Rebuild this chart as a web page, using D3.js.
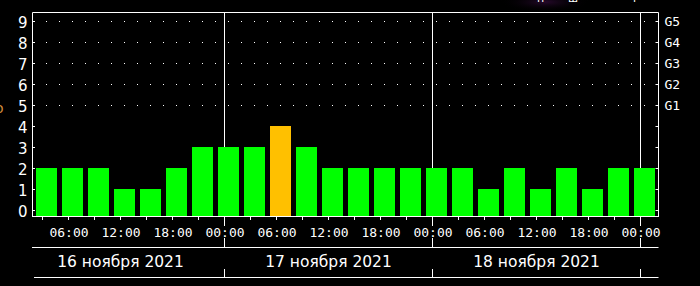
<!DOCTYPE html>
<html><head><meta charset="utf-8">
<script src="https://cdn.jsdelivr.net/npm/d3@7"></script>
<style>html,body{margin:0;padding:0;background:#000;}svg{display:block;}</style>
</head><body>
<script>
// ---- data ----
const kpValues = [2,2,2,1,1,2,3,3, 3,4,3,2,2,2,2,2, 2,1,2,1,2,1,2,2];
const yTicks = [0,1,2,3,4,5,6,7,8,9];
const gLabels = ["G1","G2","G3","G4","G5"];   // for Kp 5..9
const gLevels = [5,6,7,8,9];
const timeLabels = ["06:00","12:00","18:00","00:00","06:00","12:00","18:00","00:00","06:00","12:00","18:00","00:00"];
const dateLabels = ["16 ноября 2021","17 ноября 2021","18 ноября 2021"];

(function () {
const W = 700, H = 286;
const svg = d3.select("body").append("svg").attr("width", W).attr("height", H)
  .style("background", "#000");

// scales: hours since 16 Nov 00:00
const x = d3.scaleLinear().domain([0, 72]).range([16.5, 640.5]);
const y = d3.scaleLinear().domain([0, 9]).range([210.5, 21.2]);
const pLeft = 32.5, pRight = 658.5, pTop = 12.5, pBottom = 216.5;
const barW = 21;
const barLeft = i => x(3 * i) + 19.5;

// faint purple glow at top
const defs = svg.append("defs");
const rg = defs.append("radialGradient").attr("id", "glow");
rg.append("stop").attr("offset", "0%").attr("stop-color", "#2a0a30").attr("stop-opacity", 0.9);
rg.append("stop").attr("offset", "100%").attr("stop-color", "#000").attr("stop-opacity", 0);
svg.append("ellipse").attr("cx", 545).attr("cy", 2).attr("rx", 45).attr("ry", 10).attr("fill", "url(#glow)");
svg.append("text").attr("x", 537).attr("y", 2).attr("fill", "#fff")
  .attr("font-family", "DejaVu Sans").attr("font-size", 11).text("п");
svg.append("text").attr("x", 568).attr("y", 2).attr("fill", "#fff")
  .attr("font-family", "DejaVu Sans").attr("font-size", 11).text("ш");
svg.append("text").attr("x", 633).attr("y", 2).attr("fill", "#fff")
  .attr("font-family", "DejaVu Sans").attr("font-size", 11).text("ı");

// orange cut-off glyph at left
svg.append("text").attr("x", -5).attr("y", 113).attr("fill", "#d08a3a")
  .attr("font-family", "DejaVu Sans").attr("font-size", 14).text("o");

const white = "#fff";

// dotted grid at levels 5..9
const dotXs = [];
kpValues.forEach((d, i) => {
  dotXs.push(barLeft(i) + 10.5);
  if (i < kpValues.length - 1) dotXs.push(barLeft(i) + 23.5);
});
gLevels.forEach(l => {
  svg.append("g").selectAll("rect").data(dotXs).join("rect")
    .attr("x", d => Math.floor(d)).attr("y", Math.floor(y(l)))
    .attr("width", 1).attr("height", 1).attr("fill", white);
});

// day boundary lines
[24, 48, 72].forEach(h => {
  svg.append("line").attr("x1", x(h)).attr("x2", x(h)).attr("y1", pTop).attr("y2", pBottom)
    .attr("stroke", white).attr("stroke-width", 1);
});

// bars
svg.append("g").selectAll("rect").data(kpValues).join("rect")
  .attr("x", (d, i) => barLeft(i))
  .attr("width", barW)
  .attr("y", d => Math.round(y(d) - 0.5))
  .attr("height", d => pBottom - Math.round(y(d) - 0.5))
  .attr("fill", d => d >= 4 ? "#ffc000" : "#00ff00");

// frame
const frame = svg.append("g").attr("stroke", white).attr("stroke-width", 1).attr("fill", "none");
frame.append("line").attr("x1", pLeft).attr("x2", pRight).attr("y1", pTop).attr("y2", pTop);
frame.append("line").attr("x1", pLeft).attr("x2", pLeft).attr("y1", pTop).attr("y2", pBottom);
frame.append("line").attr("x1", pRight).attr("x2", pRight).attr("y1", pTop).attr("y2", pBottom);
frame.append("line").attr("x1", pLeft - 0.5).attr("x2", pRight + 0.5).attr("y1", pBottom).attr("y2", pBottom);

// y ticks (inner, both sides)
yTicks.forEach(t => {
  const yy = Math.floor(y(t)) + 0.5;
  frame.append("line").attr("x1", pLeft).attr("x2", pLeft + 2.5).attr("y1", yy).attr("y2", yy);
  frame.append("line").attr("x1", pRight - 3).attr("x2", pRight).attr("y1", yy).attr("y2", yy);
});
svg.append("g").selectAll("text").data(yTicks).join("text")
  .attr("x", 27.5).attr("y", d => y(d) + 6.3)
  .attr("text-anchor", "end").attr("fill", white)
  .attr("font-family", "DejaVu Sans").attr("font-size", 15).text(d => d);

svg.append("g").selectAll("text").data(gLabels).join("text")
  .attr("x", 664.5).attr("y", (d, i) => y(gLevels[i]) + 5)
  .attr("fill", white).attr("font-family", "DejaVu Sans Mono").attr("font-size", 13).text(d => d);

// x ticks every 3h
const tickHours = d3.range(3, 73, 3);
tickHours.forEach(h => {
  const xx = Math.round(x(h) - 0.5) + 0.5;
  if (h % 24 === 0) {
    frame.append("line").attr("x1", xx).attr("x2", xx).attr("y1", pBottom).attr("y2", 226);
    frame.append("line").attr("x1", xx).attr("x2", xx).attr("y1", 238).attr("y2", 247.5);
  } else {
    frame.append("line").attr("x1", xx).attr("x2", xx).attr("y1", pBottom).attr("y2", 220);
  }
});
const labelHours = d3.range(6, 73, 6);
svg.append("g").selectAll("text").data(timeLabels).join("text")
  .attr("x", (d, i) => x(labelHours[i]) + 0.5).attr("y", 236.7)
  .attr("text-anchor", "middle").attr("fill", white)
  .attr("font-family", "DejaVu Sans Mono").attr("font-size", 13).text(d => d);

// date band
frame.append("line").attr("x1", pLeft - 0.5).attr("x2", pRight).attr("y1", 247.5).attr("y2", 247.5);
frame.append("line").attr("x1", 34).attr("x2", pRight).attr("y1", 277.5).attr("y2", 277.5);
[24, 48, 72].forEach(h => {
  frame.append("line").attr("x1", x(h)).attr("x2", x(h)).attr("y1", 269).attr("y2", 277.5);
});
svg.append("g").selectAll("text").data(dateLabels).join("text")
  .attr("x", (d, i) => x(12 + 24 * i)).attr("y", 266.5)
  .attr("text-anchor", "middle").attr("fill", white)
  .attr("font-family", "DejaVu Sans").attr("font-size", 15.5).text(d => d);
})();
</script>
</body></html>
